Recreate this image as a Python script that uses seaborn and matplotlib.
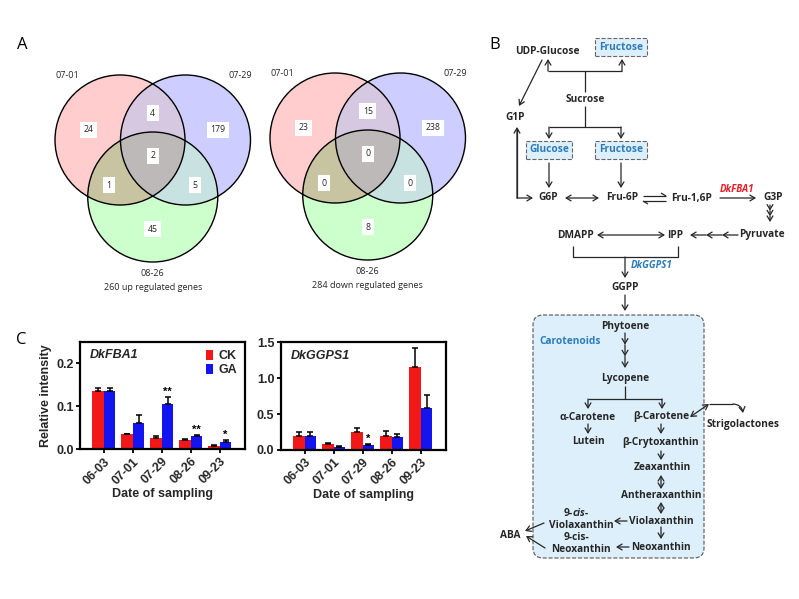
import matplotlib
matplotlib.use("Agg")
import numpy as np
import pandas as pd
import seaborn as sns
from matplotlib import pyplot as plt
from matplotlib.patches import Circle, FancyBboxPatch, Patch, Polygon

sns.set_theme(style="ticks")
plt.rcParams["font.family"] = ["Open Sans", "DejaVu Sans"]
plt.rcParams["mathtext.fontset"] = "custom"
plt.rcParams["mathtext.it"] = "Open Sans:italic:bold"
plt.rcParams["mathtext.rm"] = "Open Sans:bold"
plt.rcParams["mathtext.bf"] = "Open Sans:bold"

# ---- data -------------------------------------------------------------
venn_sets = ["07-01", "07-29", "08-26"]
# regions: only A, only B, only C, A&B, A&C, B&C, A&B&C
venn_up = [24, 179, 45, 4, 1, 5, 2]
venn_down = [23, 238, 8, 15, 0, 0, 0]
venn_titles = ["260 up regulated genes", "284 down regulated genes"]

dates = ["06-03", "07-01", "07-29", "08-26", "09-23"]
groups = ["CK", "GA"]

fba1_ck = [0.135, 0.035, 0.027, 0.0215, 0.0085]
fba1_ck_err = [0.008, 0.001, 0.005, 0.0025, 0.0015]
fba1_ga = [0.135, 0.062, 0.105, 0.0315, 0.017]
fba1_ga_err = [0.008, 0.017, 0.016, 0.0015, 0.004]
fba1_sig = ["", "", "**", "**", "*"]

ggps1_ck = [0.19, 0.08, 0.25, 0.196, 1.15]
ggps1_ck_err = [0.06, 0.02, 0.05, 0.07, 0.27]
ggps1_ga = [0.19, 0.037, 0.07, 0.18, 0.584]
ggps1_ga_err = [0.06, 0.013, 0.014, 0.04, 0.18]
ggps1_sig = ["", "", "*", "", ""]

PALETTE = {"CK": "#F21818", "GA": "#1414F0"}
# region colours: A, B, C, AB, AC, BC, ABC
VENN_COLORS = ["#FFCDCD", "#CDCDFF", "#CDFFCD", "#D7C8E1", "#C8C3A0", "#C8E1E1", "#BEB9B9"]
INK = "#262626"
BLUE_TXT = "#2B7BBA"
BOX_FILL = "#DCEFFA"
BAR_FONT = "Liberation Sans"

fig = plt.figure(figsize=(7.99, 5.99), dpi=100)

# overlay in pixel units for the venns and the pathway
ov = fig.add_axes([0, 0, 1, 1])
ov.set_xlim(0, 799)
ov.set_ylim(599, 0)
ov.axis("off")


def txt(x, y, s, size=7.3, color=INK, weight="bold", style="normal", **kw):
    ov.text(x, y, s, fontsize=size, color=color, fontweight=weight,
            fontstyle=style, ha=kw.pop("ha", "center"), va=kw.pop("va", "center"), **kw)


def arrow(x0, y0, x1, y1, style="->"):
    ov.annotate("", xy=(x1, y1), xytext=(x0, y0),
                arrowprops=dict(arrowstyle=style + ",head_length=0.5,head_width=0.3",
                                color=INK, lw=0.9, shrinkA=0, shrinkB=0,
                                mutation_scale=7))


def line(xs, ys):
    ov.plot(xs, ys, color=INK, lw=0.9, solid_capstyle="butt")


def multi_arrow(x0, y0, x1, y1, n=3):
    px = np.linspace(x0, x1, n + 1)
    py = np.linspace(y0, y1, n + 1)
    for i in range(n):
        arrow(px[i], py[i], px[i + 1], py[i + 1])


# ---- panel A: venn diagrams -------------------------------------------
R = 65


def triple_region(centers):
    pts = []
    t = np.linspace(0, 2 * np.pi, 1440, endpoint=False)
    for cx, cy in centers:
        x = cx + R * np.cos(t)
        y = cy + R * np.sin(t)
        inside = np.all([(x - ox) ** 2 + (y - oy) ** 2 <= R * R + 1e-6
                         for ox, oy in centers], axis=0)
        pts.append(np.c_[x[inside], y[inside]])
    pts = np.vstack(pts)
    c = pts.mean(axis=0)
    return pts[np.argsort(np.arctan2(pts[:, 1] - c[1], pts[:, 0] - c[0]))]


def draw_venn(mx, my, counts, title):
    centers = [(mx - 32.75, my), (mx + 32.75, my), (mx, my + 57)]
    circ = []
    for (cx, cy), col in zip(centers, VENN_COLORS[:3]):
        p = Circle((cx, cy), R, facecolor=col, lw=0)
        ov.add_patch(p)
        circ.append(p)
    for (top, clip), col in zip([(1, 0), (2, 0), (2, 1)], VENN_COLORS[3:6]):
        p = Circle(centers[top], R, facecolor=col, lw=0)
        ov.add_patch(p)
        p.set_clip_path(circ[clip])
    ov.add_patch(Polygon(triple_region(centers), closed=True,
                         facecolor=VENN_COLORS[6], lw=0))
    for cx, cy in centers:
        ov.add_patch(Circle((cx, cy), R, facecolor="none", edgecolor="black", lw=1.0))
    spots = [(-64, -10), (65, -10), (0, 89), (0, -27), (-44, 45), (42, 45), (0, 16)]
    for (dx, dy), n in zip(spots, counts):
        ov.text(mx + dx, my + dy, str(n), fontsize=6.3, ha="center", va="center",
                color=INK, bbox=dict(boxstyle="square,pad=0.4", fc="white", ec="none"))
    labs = [(-85, -64), (88, -64), (0, 133)]
    for (dx, dy), s in zip(labs, venn_sets):
        ov.text(mx + dx, my + dy, s, fontsize=6.5, ha="center", va="center", color=INK)
    ov.text(mx, my + 148, title, fontsize=6.5, ha="center", va="center", color=INK)


draw_venn(152.75, 140, venn_up, venn_titles[0])
draw_venn(367.75, 138, venn_down, venn_titles[1])

for x, y, s in [(22, 45, "A"), (495, 45, "B"), (21, 340, "C")]:
    ov.text(x, y, s, fontsize=12, ha="center", va="center", color="black")

# ---- panel B: pathway -------------------------------------------------
box = dict(boxstyle="square,pad=0.35", fc=BOX_FILL, ec="#666666", ls="--", lw=0.8)
txt(547, 51, "UDP-Glucose")
txt(621, 47, "Fructose", color=BLUE_TXT, bbox=box)
line([585, 585], [92, 71])
line([548, 622], [71, 71])
arrow(548, 71, 548, 59)
arrow(622, 71, 622, 59)
txt(585, 99, "Sucrose")
line([585, 585], [106, 127])
line([549, 621], [127, 127])
arrow(549, 127, 549, 139)
arrow(621, 127, 621, 139)
txt(549, 150, "Glucose", color=BLUE_TXT, bbox=box)
txt(621, 150, "Fructose", color=BLUE_TXT, bbox=box)
arrow(549, 163, 549, 188)
arrow(621, 163, 621, 188)

txt(515, 118, "G1P")
arrow(542, 60, 519, 106)
line([517, 517], [198, 128])
arrow(517, 198, 517, 127)
arrow(517, 198, 533, 198)

txt(548, 198, "G6P")
txt(622, 198, "Fru-6P")
txt(692, 198, "Fru-1,6P")
txt(773, 198, "G3P")
arrow(565, 198, 599, 198, "<->")
line([643, 666], [196, 196])
line([661, 666], [193, 196])
line([643, 666], [201, 201])
line([643, 648], [201, 204])
arrow(720, 198, 756, 198)
txt(737, 189, "DkFBA1", size=7, color="#E3202A", style="italic")

multi_arrow(770, 205, 770, 222)
txt(762, 235, "Pyruvate")
txt(675, 235, "IPP")
txt(575, 235, "DMAPP")
multi_arrow(738, 235, 690, 235)
arrow(597, 235, 665, 235, "<->")
line([573, 573, 678, 678], [246, 257, 257, 246])
arrow(625, 257, 625, 278)
txt(652, 266, "DkGGPS1", size=7, color=BLUE_TXT, style="italic")
txt(625, 287, "GGPP")
arrow(625, 295, 625, 311)

ov.add_patch(FancyBboxPatch((533, 315), 171, 243,
                            boxstyle="round,pad=0,rounding_size=10",
                            fc=BOX_FILL, ec="#555555", ls="--", lw=0.8))
txt(625, 326, "Phytoene")
txt(570, 341, "Carotenoids", color=BLUE_TXT)
multi_arrow(625, 333, 625, 368)
txt(625, 378, "Lycopene")
line([625, 625], [386, 399])
line([588, 662], [399, 399])
arrow(588, 399, 588, 409)
arrow(662, 399, 662, 409)
txt(588, 417, "α-Carotene")
txt(661, 417, "β-Carotene")
arrow(588, 424, 588, 434)
txt(588, 442, "Lutein")
arrow(661, 424, 661, 434)
txt(661, 442, "β-Crytoxanthin")
arrow(661, 451, 661, 460)
txt(662, 467, "Zeaxanthin")
arrow(661, 475, 661, 489, "<->")
txt(661, 496, "Antheraxanthin")
arrow(661, 502, 661, 514, "<->")
txt(661, 521, "Violaxanthin")
arrow(661, 527, 661, 539)
txt(661, 547, "Neoxanthin")
arrow(627, 521, 614, 521)
arrow(629, 547, 616, 547)
txt(576, 513, r"9-$\mathit{cis}$-")
txt(581, 525, "Violaxanthin")
txt(576, 537, "9-cis-")
txt(581, 549, "Neoxanthin")
txt(510, 535, "ABA")
arrow(544, 523, 525, 531)
arrow(545, 548, 526, 536)
arrow(690, 417, 709, 404, "<->")
line([709, 733], [404, 404])
ov.annotate("", xy=(743, 413), xytext=(733, 404),
            arrowprops=dict(arrowstyle="->,head_length=0.5,head_width=0.3",
                            color=INK, lw=0.9, shrinkA=0, shrinkB=0, mutation_scale=7,
                            connectionstyle="arc3,rad=-0.4"))
txt(743, 424, "Strigolactones")

# ---- panel C: bar charts ----------------------------------------------
FS = 9


def bar_panel(ax, gene, ck, ck_err, ga, ga_err, sig, ymax, yticks):
    df = pd.DataFrame({
        "date": dates * 2,
        "group": [groups[0]] * len(dates) + [groups[1]] * len(dates),
        "value": ck + ga,
    })
    sns.barplot(data=df, x="date", y="value", hue="group", order=dates,
                hue_order=groups, palette=PALETTE, errorbar=None, legend=False,
                saturation=1, width=0.8, linewidth=0, ax=ax)
    bars = list(ax.containers[:2])
    for cont, err in zip(bars, [ck_err, ga_err]):
        xs = [p.get_x() + p.get_width() / 2 for p in cont]
        hs = [p.get_height() for p in cont]
        ax.errorbar(xs, hs, yerr=[np.zeros(len(err)), err], fmt="none",
                    ecolor="black", elinewidth=1.1, capsize=2, capthick=1.1)
    for p, e, s in zip(bars[1], ga_err, sig):
        if s:
            ax.text(p.get_x() + p.get_width() / 2, p.get_height() + e + ymax * 0.005, s,
                    ha="center", va="bottom", fontsize=8, fontweight="bold",
                    family=BAR_FONT, color="black")
    ax.set_xlim(-0.82, 4.87)
    ax.set_ylim(0, ymax)
    ax.set_yticks(yticks)
    ax.set_yticklabels([f"{v:.1f}" for v in yticks])
    ax.set_xlabel("Date of sampling", fontsize=FS, fontweight="bold",
                  family=BAR_FONT, labelpad=1)
    ax.set_ylabel("")
    for sp in ax.spines.values():
        sp.set_visible(True)
        sp.set_linewidth(1.6)
        sp.set_color("black")
    ax.tick_params(axis="both", width=1.3, length=3, color="black", pad=1.5)
    for lab in ax.get_xticklabels():
        lab.set_rotation(45)
        lab.set_ha("right")
        lab.set_rotation_mode("anchor")
    for lab in ax.get_xticklabels() + ax.get_yticklabels():
        lab.set_fontsize(FS)
        lab.set_fontweight("bold")
        lab.set_family(BAR_FONT)
    ax.text(0.06, 0.93, gene, transform=ax.transAxes, fontsize=FS,
            fontweight="bold", fontstyle="italic", family=BAR_FONT,
            ha="left", va="top")


ax1 = fig.add_axes([80 / 799, 1 - 449.3 / 599, 165 / 799, 107.6 / 599])
bar_panel(ax1, "DkFBA1", fba1_ck, fba1_ck_err, fba1_ga, fba1_ga_err, fba1_sig,
          0.25, [0.0, 0.1, 0.2])
ax1.set_ylabel("Relative intensity", fontsize=FS, fontweight="bold",
               family=BAR_FONT, labelpad=3)
handles = [Patch(facecolor=PALETTE[g], edgecolor="none") for g in groups]
ax1.legend(handles, groups, loc="upper right", frameon=False,
           handlelength=0.6, handleheight=0.9, handletextpad=0.4,
           labelspacing=0.1, borderaxespad=0.25,
           prop=dict(family=BAR_FONT, weight="bold", size=FS))

ax2 = fig.add_axes([280.7 / 799, 1 - 450 / 599, 165.3 / 799, 107.7 / 599])
bar_panel(ax2, "DkGGPS1", ggps1_ck, ggps1_ck_err, ggps1_ga, ggps1_ga_err, ggps1_sig,
          1.5, [0.0, 0.5, 1.0, 1.5])

fig.savefig("out.png", dpi=100)
